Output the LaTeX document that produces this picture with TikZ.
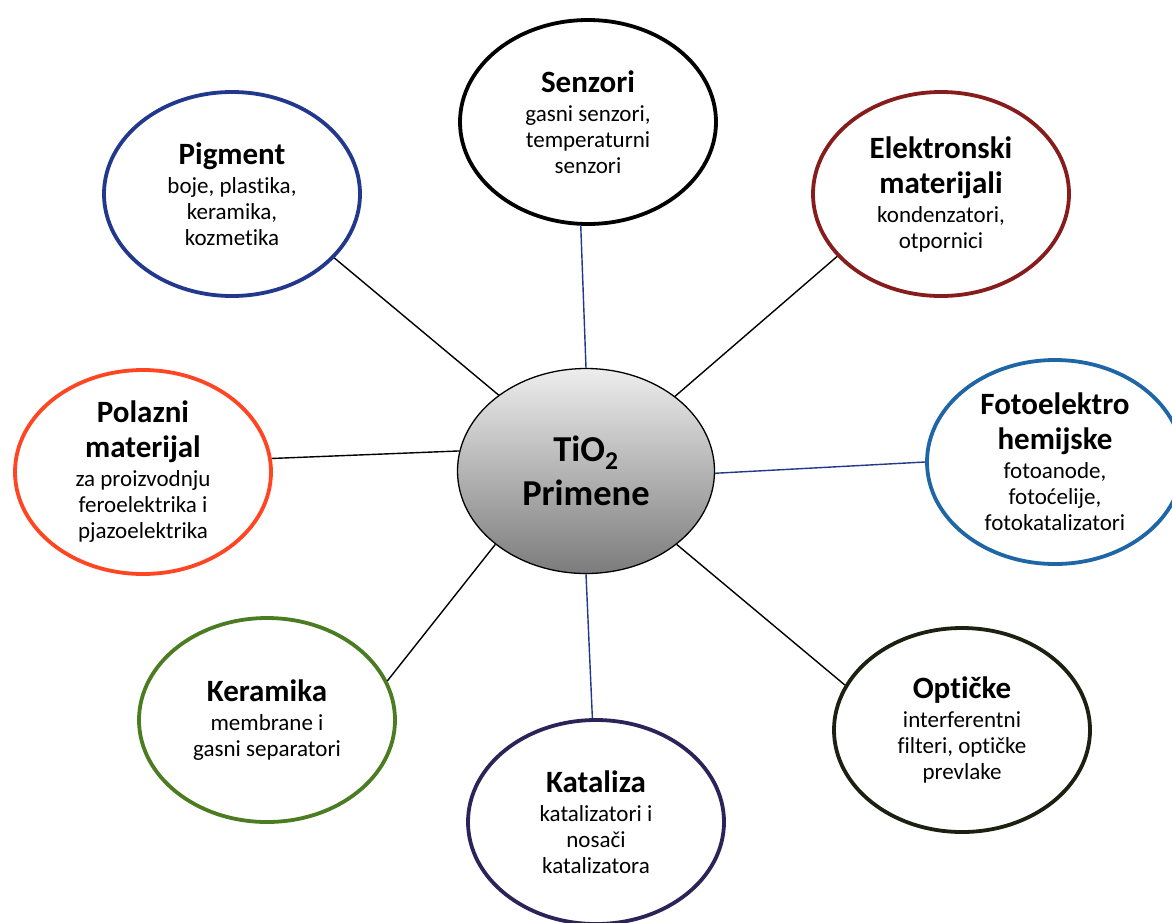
\documentclass[tikz,border=0pt]{standalone}
\usepackage{fontspec}
\setmainfont{Carlito}[Ligatures=NoCommon]
\usetikzlibrary{shapes.geometric}
\definecolor{cSen}{HTML}{000000}
\definecolor{cPig}{HTML}{22388C}
\definecolor{cEle}{HTML}{861C1C}
\definecolor{cPol}{HTML}{FF4522}
\definecolor{cFot}{HTML}{1F66A6}
\definecolor{cKer}{HTML}{4B7C22}
\definecolor{cKat}{HTML}{2C2358}
\definecolor{cOpt}{HTML}{1B2011}
\definecolor{cLink}{HTML}{22388C}
\definecolor{cTop}{HTML}{EDEDED}
\definecolor{cBot}{HTML}{7C7C7C}
\newcommand{\bodyf}{\fontsize{23}{26}\selectfont\lineskiplimit=-100pt\lineskip=0pt}
\newcommand{\ttl}[1]{{\fontsize{31}{36}\selectfont\bfseries #1}}
\tikzset{
  bubble/.style={ellipse, draw=#1, line width=3.8pt, fill=white,
    minimum width=256pt, minimum height=204pt, inner sep=0pt,
    align=center, font=\bodyf},
  core/.style={ellipse, draw=black, line width=1.3pt,
    top color=cTop, bottom color=cBot,
    minimum width=257pt, minimum height=205pt, inner sep=0pt,
    align=center, font=\fontsize{36.5}{44}\selectfont\bfseries},
  link/.style={line width=1.4pt, draw=black},
  blink/.style={line width=1.4pt, draw=cLink},
}
\begin{document}
\begin{tikzpicture}[x=1pt, y=-1pt]
\fill[white] (0,0) rectangle (1172,922);
\clip (0,0) rectangle (1172,922);
\node[core] (tio) at (586,471) {TiO\textsubscript{2}\\Primene};
\node[bubble=cSen] (sen) at (588,122) {\ttl{Senzori}\\[3pt]gasni senzori,\\temperaturni\\senzori};
\node[bubble=cPig] (pig) at (232,194) {\ttl{Pigment}\\[3pt]boje, plastika,\\keramika,\\kozmetika};
\node[bubble=cEle] (ele) at (941,194) {\ttl{Elektronski}\\[9pt]\ttl{materijali}\\[3pt]kondenzatori,\\otpornici};
\node[bubble=cPol] (pol) at (143,472) {\ttl{Polazni}\\[9pt]\ttl{materijal}\\[3pt]za proizvodnju\\feroelektrika i\\pjazoelektrika};
\node[bubble=cFot] (fot) at (1055,462) {\ttl{Fotoelektro}\\[9pt]\ttl{hemijske}\\[3pt]fotoanode,\\fotoćelije,\\fotokatalizatori};
\node[bubble=cKer] (ker) at (267,720) {\ttl{Keramika}\\[3pt]membrane i\\gasni separatori};
\node[bubble=cKat] (kat) at (596,822) {\ttl{Kataliza}\\[3pt]katalizatori i\\nosači\\katalizatora};
\node[bubble=cOpt] (opt) at (962,730) {\ttl{Optičke}\\[3pt]interferentni\\filteri, optičke\\prevlake};
\draw[link] (pig.-32.5) -- (tio.139.8);
\draw[blink] (sen.-94) -- (tio.90);
\draw[link] (ele.-149.4) -- (tio.40);
\draw[link] (pol.6.6) -- (tio.171.6);
\draw[blink] (tio.-1) -- (fot.180);
\draw[link] (ker.18.3) -- (tio.219.6);
\draw[blink] (tio.-90) -- (kat.92.7);
\draw[link] (tio.-39) -- (opt.159.4);
\end{tikzpicture}
\end{document}
